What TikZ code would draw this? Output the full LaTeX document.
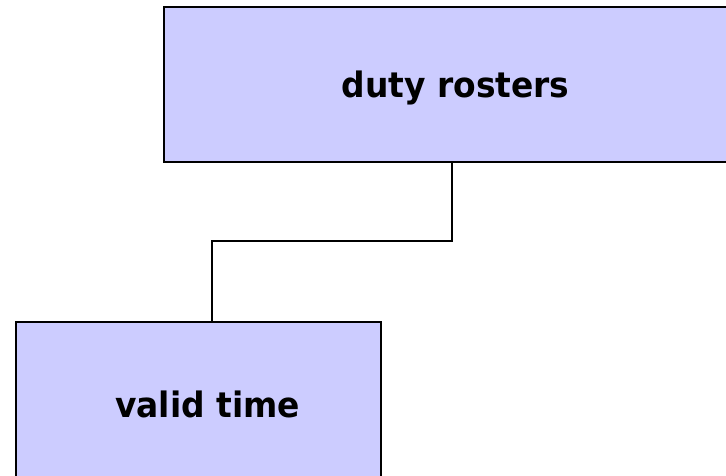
\documentclass[tikz,border=0pt]{standalone}
\usepackage{fontspec}
\setmainfont{DejaVu Sans}
\newfontfamily\blocklabelfont[FakeStretch=0.94]{DejaVu Sans Bold}
\begin{document}
\begin{tikzpicture}[x=1pt,y=-1pt,
  block/.style={draw=black,fill=boxblue,line width=2pt,rectangle,inner sep=0pt,anchor=north west},
  label/.style={font=\blocklabelfont\fontsize{35}{42}\selectfont,text=black,anchor=base,inner sep=0pt},
  link/.style={draw=black,line width=2pt}]
\definecolor{boxblue}{HTML}{CCCCFF}
\useasboundingbox (0,0) rectangle (726,476);
\clip (0,0) rectangle (726,476);
% upper block runs past the right edge, lower block past the bottom
\node[block,minimum width=580pt,minimum height=155pt] (rosters) at (163,6) {};
\node[block,minimum width=365pt,minimum height=180pt] (valid) at (15,321) {};
\node[label] (rostersText) at (455.5,98) {duty rosters};
\node[label] (validText) at (207.5,417) {valid time};
\coordinate (bend) at (452,241);
\draw[link] (rosters.south -| bend) -- (bend) -- (bend -| 212,0) -- (valid.north -| 212,0);
\end{tikzpicture}
\end{document}
